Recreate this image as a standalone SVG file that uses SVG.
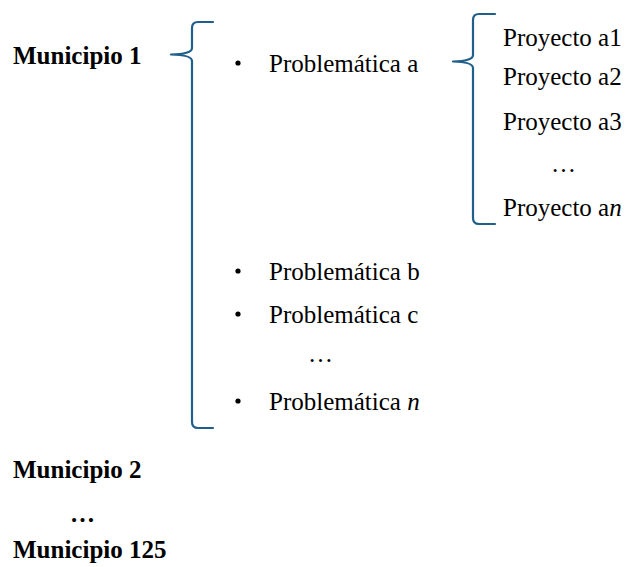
<svg xmlns="http://www.w3.org/2000/svg" width="632" height="567" viewBox="0 0 632 567" font-family="Times New Roman" font-size="25">
<rect width="632" height="567" fill="#fff"/>
<g id="municipio1" font-family="Times New Roman"><text x="13" y="64" font-family="Times New Roman" font-weight="bold">Municipio 1</text></g>
<g id="municipio2" font-family="Times New Roman"><text x="13" y="478" font-family="Times New Roman" font-weight="bold">Municipio 2</text></g>
<g id="municipio-dots" font-family="Times New Roman"><text x="70" y="522" font-family="Times New Roman" font-weight="bold">…</text></g>
<g id="municipio125" font-family="Times New Roman"><text x="13" y="558" font-family="Times New Roman" font-weight="bold">Municipio 125</text></g>
<g id="problematicas" font-family="Times New Roman">
<g id="prob-a"><circle cx="238" cy="63" r="2.6"/><text x="269" y="72" font-family="Times New Roman">Problemática a</text></g>
<g id="prob-b"><circle cx="238" cy="271" r="2.6"/><text x="269" y="280" font-family="Times New Roman">Problemática b</text></g>
<g id="prob-c"><circle cx="238" cy="314" r="2.6"/><text x="269" y="323" font-family="Times New Roman">Problemática c</text></g>
<g id="prob-dots"><text x="308" y="362" font-family="Times New Roman">…</text></g>
<g id="prob-n"><circle cx="238" cy="401" r="2.6"/><text x="269" y="410" font-family="Times New Roman">Problemática <tspan font-style="italic">n</tspan></text></g>
</g>
<g id="proyectos" font-family="Times New Roman">
<g id="proy-a1"><text x="503" y="46" font-family="Times New Roman">Proyecto a1</text></g>
<g id="proy-a2"><text x="503" y="85" font-family="Times New Roman">Proyecto a2</text></g>
<g id="proy-a3"><text x="503" y="130" font-family="Times New Roman">Proyecto a3</text></g>
<g id="proy-dots"><text x="551" y="172" font-family="Times New Roman">…</text></g>
<g id="proy-an"><text x="503" y="216" font-family="Times New Roman">Proyecto a<tspan font-style="italic">n</tspan></text></g>
</g>
<g id="connectors" fill="none" stroke="#1F5F8A" stroke-width="2.2" stroke-linecap="round" stroke-linejoin="round">
<path d="M213,22 H198 Q192,22 192,28 V48 Q192,54 171,54.5 Q192,55 192,61 V422 Q192,428 198,428 H213"/>
<path d="M495,14 H479 Q473,14 473,20 V55 Q473,61 453,61.5 Q473,62 473,68 V218 Q473,224 479,224 H495"/>
</g>
</svg>
